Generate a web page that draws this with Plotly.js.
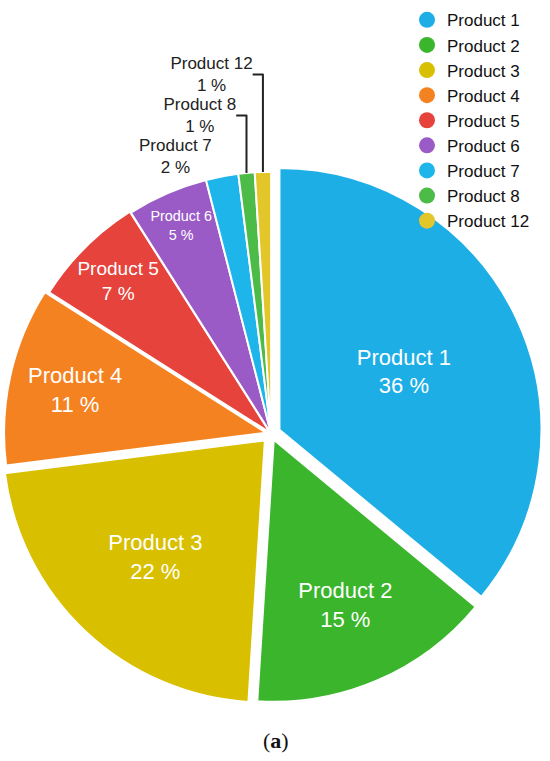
<!DOCTYPE html>
<html><head><meta charset="utf-8">
<script src="https://cdn.plot.ly/plotly-3.0.1.min.js"></script>
<style>html,body{margin:0;padding:0;background:#fff;}#chart{width:550px;height:761px;}</style>
</head><body><div id="chart"></div>
<script>
const labels = ["Product 1","Product 2","Product 3","Product 4","Product 5","Product 6","Product 7","Product 8","Product 12"];
const shares = [36, 15, 22, 11, 7, 5, 2, 1, 1];
const colors = ["#1eaee6","#3bb52c","#d8c000","#f58220","#e5433b","#9a5bc7","#1eb6ea","#4cbb48","#e2c62a"];
const pulls = [0.035, 0.025, 0.035, 0.02, 0.005, 0, 0, 0, 0];
const positions = ["inside","inside","inside","inside","inside","inside","outside","outside","outside"];

const pie = {
  type: "pie",
  labels: labels,
  values: shares,
  sort: false,
  direction: "clockwise",
  rotation: 0,
  pull: pulls,
  marker: {colors: colors, line: {color: "#ffffff", width: 2}},
  texttemplate: "%{label}<br>%{value} %",
  textposition: positions,
  insidetextorientation: "horizontal",
  insidetextfont: {color: "#ffffff", size: 22, family: "Liberation Sans, Arial, sans-serif"},
  outsidetextfont: {color: "#222222", size: 17, family: "Liberation Sans, Arial, sans-serif"},
  showlegend: false,
  hoverinfo: "none",
  domain: {x: [0, 0.986], y: [0.07, 0.79]}
};

const legendTraces = labels.map((l, i) => ({
  type: "scatter", mode: "markers", x: [null], y: [null], name: l,
  marker: {color: colors[i], size: 16, symbol: "circle"}, showlegend: true, hoverinfo: "none"
}));

const layout = {
  width: 550, height: 761,
  margin: {l: 0, r: 0, t: 0, b: 0},
  paper_bgcolor: "#ffffff", plot_bgcolor: "#ffffff",
  xaxis: {visible: false}, yaxis: {visible: false},
  showlegend: true,
  legend: {x: 0.74, y: 0.997, xanchor: "left", yanchor: "top",
           font: {size: 17, color: "#111111", family: "Liberation Sans, Arial, sans-serif"},
           itemwidth: 30, tracegroupgap: 0, bgcolor: "rgba(0,0,0,0)"},
  annotations: [{text: "(<b>a</b>)", x: 0.502, y: 21/761, xref: "paper", yref: "paper",
                 xanchor: "center", yanchor: "middle",
                 showarrow: false, font: {size: 22, family: "Liberation Serif, DejaVu Serif, serif", color: "#111"}}]
};

Plotly.newPlot("chart", [pie].concat(legendTraces), layout, {displayModeBar: false, staticPlot: true});
</script></body></html>
